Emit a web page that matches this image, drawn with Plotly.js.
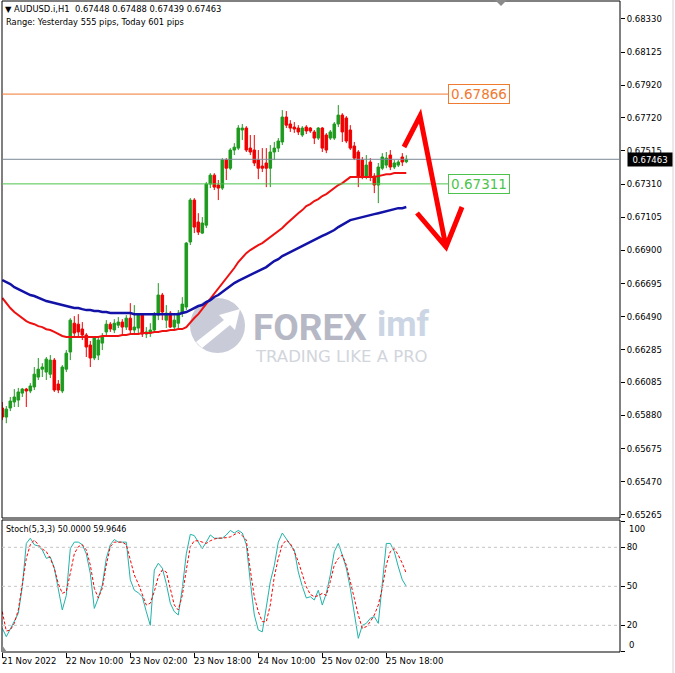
<!DOCTYPE html>
<html><head><meta charset="utf-8">
<script src="https://cdn.plot.ly/plotly-3.0.1.min.js"></script>
<style>html,body{margin:0;padding:0;background:#fff;overflow:hidden}#chart{width:675px;height:673px}</style>
</head><body><div id="chart"></div><script>
// ---- data ----
const tickBars = [0, 16, 32, 48, 64, 80, 96];
const tickLabels = ["21 Nov 2022", "22 Nov 10:00", "23 Nov 02:00", "23 Nov 18:00", "24 Nov 10:00", "25 Nov 02:00", "25 Nov 18:00"];

const open = [0.65926,0.65870,0.65926,0.65963,0.65975,0.66018,0.66043,0.66031,0.66056,0.66117,
0.66166,0.66148,0.66135,0.66222,0.66074,0.66031,0.66166,0.66272,0.66450,0.66444,
0.66414,0.66377,0.66315,0.66235,0.66253,0.66327,0.66396,0.66444,0.66408,0.66438,
0.66457,0.66426,0.66481,0.66408,0.66420,0.66500,0.66383,0.66389,0.66408,0.66500,
0.66624,0.66469,0.66512,0.66426,0.66450,0.66512,0.66550,0.66952,0.67211,0.67075,
0.67007,0.67056,0.67310,0.67365,0.67304,0.67285,0.67458,0.67408,0.67520,0.67532,
0.67644,0.67656,0.67532,0.67520,0.67458,0.67421,0.67440,0.67408,0.67508,0.67532,
0.67570,0.67724,0.67681,0.67662,0.67656,0.67613,0.67662,0.67656,0.67632,0.67594,
0.67656,0.67613,0.67594,0.67594,0.67681,0.67736,0.67718,0.67644,0.67545,0.67508,
0.67458,0.67359,0.67446,0.67359,0.67304,0.67408,0.67427,0.67489,0.67415,0.67427,
0.67477,0.67448];
const high = [0.65963,0.65938,0.65994,0.66043,0.66050,0.66050,0.66050,0.66080,0.66179,0.66235,
0.66203,0.66241,0.66253,0.66235,0.66099,0.66191,0.66284,0.66481,0.66494,0.66506,
0.66457,0.66389,0.66340,0.66371,0.66365,0.66389,0.66469,0.66457,0.66475,0.66488,
0.66475,0.66500,0.66574,0.66562,0.66512,0.66512,0.66426,0.66450,0.66519,0.66698,
0.66637,0.66562,0.66525,0.66500,0.66531,0.66611,0.66952,0.67223,0.67223,0.67130,
0.67106,0.67322,0.67377,0.67377,0.67335,0.67470,0.67470,0.67532,0.67563,0.67674,
0.67681,0.67668,0.67613,0.67613,0.67520,0.67532,0.67532,0.67551,0.67570,0.67594,
0.67767,0.67761,0.67705,0.67693,0.67674,0.67668,0.67674,0.67662,0.67644,0.67662,
0.67662,0.67625,0.67644,0.67693,0.67798,0.67748,0.67730,0.67674,0.67570,0.67520,
0.67477,0.67489,0.67470,0.67377,0.67440,0.67501,0.67508,0.67520,0.67458,0.67458,
0.67501,0.67488];
const low = [0.65851,0.65832,0.65907,0.65932,0.65932,0.65994,0.65932,0.66018,0.66037,0.66099,
0.66117,0.66099,0.66111,0.66025,0.66018,0.66018,0.66148,0.66222,0.66365,0.66365,
0.66346,0.66241,0.66179,0.66222,0.66222,0.66284,0.66365,0.66396,0.66389,0.66420,
0.66371,0.66408,0.66389,0.66377,0.66389,0.66365,0.66358,0.66365,0.66389,0.66469,
0.66469,0.66420,0.66420,0.66408,0.66420,0.66488,0.66531,0.66933,0.67007,0.66995,
0.67001,0.67038,0.67285,0.67273,0.67211,0.67273,0.67335,0.67396,0.67489,0.67520,
0.67582,0.67508,0.67489,0.67421,0.67340,0.67384,0.67291,0.67291,0.67458,0.67508,
0.67551,0.67656,0.67632,0.67626,0.67613,0.67601,0.67619,0.67626,0.67557,0.67582,
0.67508,0.67501,0.67582,0.67582,0.67662,0.67570,0.67563,0.67520,0.67458,0.67291,
0.67340,0.67340,0.67328,0.67254,0.67192,0.67396,0.67408,0.67396,0.67402,0.67415,
0.67421,0.67439];
const close = [0.65870,0.65919,0.65969,0.65994,0.66025,0.66043,0.66031,0.66062,0.66135,0.66166,
0.66179,0.66228,0.66222,0.66037,0.66037,0.66179,0.66265,0.66469,0.66389,0.66396,
0.66377,0.66303,0.66235,0.66358,0.66346,0.66365,0.66444,0.66414,0.66450,0.66457,
0.66426,0.66481,0.66408,0.66426,0.66500,0.66383,0.66396,0.66408,0.66500,0.66624,
0.66519,0.66512,0.66426,0.66469,0.66512,0.66568,0.66945,0.67211,0.67044,0.67013,
0.67069,0.67310,0.67365,0.67291,0.67285,0.67458,0.67408,0.67520,0.67538,0.67656,
0.67656,0.67520,0.67508,0.67440,0.67408,0.67408,0.67408,0.67508,0.67532,0.67576,
0.67724,0.67674,0.67656,0.67650,0.67632,0.67656,0.67638,0.67638,0.67594,0.67656,
0.67532,0.67520,0.67632,0.67681,0.67736,0.67632,0.67576,0.67532,0.67470,0.67359,
0.67359,0.67427,0.67353,0.67304,0.67415,0.67477,0.67470,0.67415,0.67440,0.67446,
0.67446,0.67463];

const maFast = [0.66606,0.66574,0.66544,0.66519,0.66500,0.66482,0.66463,0.66451,0.66444,0.66432,
0.66426,0.66413,0.66408,0.66396,0.66383,0.66371,0.66365,0.66365,0.66365,0.66365,
0.66365,0.66365,0.66365,0.66365,0.66365,0.66371,0.66371,0.66371,0.66371,0.66371,
0.66377,0.66377,0.66383,0.66383,0.66383,0.66389,0.66389,0.66389,0.66396,0.66396,
0.66402,0.66402,0.66408,0.66408,0.66414,0.66414,0.66426,0.66457,0.66482,0.66506,
0.66537,0.66568,0.66599,0.66630,0.66661,0.66692,0.66723,0.66760,0.66791,0.66828,
0.66859,0.66883,0.66902,0.66920,0.66933,0.66945,0.66964,0.66982,0.67001,0.67019,
0.67038,0.67063,0.67087,0.67106,0.67130,0.67149,0.67174,0.67186,0.67205,0.67217,
0.67236,0.67248,0.67267,0.67285,0.67304,0.67316,0.67335,0.67353,0.67353,0.67353,
0.67353,0.67353,0.67353,0.67353,0.67359,0.67365,0.67371,0.67371,0.67378,0.67378,
0.67378,0.67378];
const maSlow = [0.66717,0.66704,0.66692,0.66673,0.66661,0.66649,0.66636,0.66624,0.66618,0.66606,
0.66599,0.66587,0.66581,0.66574,0.66568,0.66562,0.66556,0.66550,0.66544,0.66544,
0.66537,0.66531,0.66531,0.66525,0.66525,0.66519,0.66519,0.66513,0.66513,0.66513,
0.66513,0.66513,0.66513,0.66506,0.66506,0.66506,0.66506,0.66506,0.66506,0.66506,
0.66506,0.66506,0.66506,0.66506,0.66506,0.66513,0.66519,0.66531,0.66544,0.66556,
0.66562,0.66581,0.66593,0.66612,0.66624,0.66643,0.66661,0.66680,0.66698,0.66711,
0.66723,0.66735,0.66747,0.66760,0.66772,0.66785,0.66797,0.66816,0.66834,0.66846,
0.66865,0.66877,0.66890,0.66902,0.66914,0.66927,0.66939,0.66952,0.66964,0.66976,
0.66989,0.67001,0.67013,0.67026,0.67044,0.67057,0.67075,0.67087,0.67093,0.67100,
0.67106,0.67112,0.67118,0.67124,0.67130,0.67137,0.67143,0.67149,0.67155,0.67161,
0.67161,0.67168];

const stochMain = [17.7,11.3,17.2,22.8,29.2,49.7,83,87,82,81,
78,71.5,72.6,64,47,31.8,43,79,84,84,
82,75,60,33,41,51,71.5,82,86,84,
84,84,55,47,45,42,30.5,20,62.5,67.7,
64,52,37,30.5,28,48.5,75,90,89,84,
79,84,89.5,87,87,87,89.5,93,91,93,
91,82,53.6,28,16.4,15,34,53.6,66,84,
91,86,82,78,61,50,41,42,39.5,47,
35.6,44.6,58.7,76.7,83,74,64,48.5,30.5,10,
20,21.5,25.4,26.7,21.5,53.6,83,83,76.7,65,
55,50.0];
const stochSignal = [30.5,15.6,16.4,21.5,31.8,51,71.5,82,85.6,82,
78.7,76.7,71.5,64,52,44.6,46,60,75,80.5,
82,78,66.4,48.5,41,48.5,66.4,80.5,84,84,
84,82,70,58.7,52,43,35.6,37,46,57.4,
62.6,61,48.5,35.6,31.8,43,62.6,80.5,85,85,
84,83,85,86.4,87,87,87.4,88,90,91.5,
89,85.6,62.6,42,30.5,22.8,22.8,35.6,57.4,71.5,
82,85.6,83,76.7,69,58.7,49.7,43.8,42,42.8,
44.6,43,53.6,66.4,71.5,74,66.4,53.6,40.8,28,
17.7,19,22.8,28,35.6,48.5,66.4,76.7,79,74,
67.7,59.9646];

const priceTicks = [0.68330,0.68125,0.67920,0.67720,0.67515,0.67310,0.67105,0.66900,0.66695,0.66490,0.66285,0.66085,0.65880,0.65675,0.65470,0.65265];
const stochTicks = [0, 20, 50, 80, 100];
const stochLevels = [20, 50, 80];
const levelHigh = 0.67866, levelLow = 0.67311, lastPrice = 0.67463;
const headerText = "\u25BC AUDUSD.i,H1\u00a0\u00a00.67448 0.67488 0.67439 0.67463";
const rangeText = "Range: Yesterday 555 pips, Today 601 pips";
const stochText = "Stoch(5,3,3) 50.0000 59.9646";

// ---- geometry helpers (pixel -> paper) ----
const W = 675, H = 673, ML = 2, MR = 55, MT = 1, MB = 21;
const PW = W - ML - MR, PH = H - MT - MB;
const fx = p => (p - ML) / PW;
const fy = p => (H - MB - p) / PH;
const bars = open.map((_, i) => i);
const FONT = 'DejaVu Sans';

const traces = [
  {type:'candlestick', x:bars, open:open, high:high, low:low, close:close, xaxis:'x', yaxis:'y',
   increasing:{line:{color:'#1e9a1e', width:1}, fillcolor:'#1e9a1e'},
   decreasing:{line:{color:'#f00000', width:1}, fillcolor:'#f00000'},
   whiskerwidth:0, hoverinfo:'skip'},
  {type:'scatter', mode:'lines', x:bars, y:maFast, xaxis:'x', yaxis:'y', line:{color:'#ee1111', width:2}, hoverinfo:'skip'},
  {type:'scatter', mode:'lines', x:bars, y:maSlow, xaxis:'x', yaxis:'y', line:{color:'#1212a6', width:2.5}, hoverinfo:'skip'},
  {type:'scatter', mode:'lines', x:bars, y:stochMain, xaxis:'x', yaxis:'y2', line:{color:'#20b2aa', width:1}, hoverinfo:'skip'},
  {type:'scatter', mode:'lines', x:bars, y:stochSignal, xaxis:'x', yaxis:'y2', line:{color:'#ff0000', width:1, dash:'3px,2px'}, hoverinfo:'skip'}
];

const shapes = [];
// watermark logo (below data)
shapes.push({type:'circle', xref:'paper', yref:'paper', x0:fx(190), x1:fx(245), y0:fy(353), y1:fy(298),
  fillcolor:'#c9ccd8', line:{width:0}, layer:'below'});
shapes.push({type:'path', xref:'paper', yref:'paper', layer:'below', fillcolor:'#ffffff', line:{width:0},
  path:`M${fx(196)},${fy(342)} L${fx(224)},${fy(320)} L${fx(219)},${fy(315)} L${fx(240)},${fy(309)} L${fx(235)},${fy(330)} L${fx(230)},${fy(325)} L${fx(202)},${fy(348)} Z`});
// panel frames
shapes.push({type:'rect', xref:'paper', yref:'paper', x0:0, x1:1, y0:fy(518), y1:1, line:{color:'#000', width:1}});
shapes.push({type:'rect', xref:'paper', yref:'paper', x0:0, x1:1, y0:0, y1:fy(520), line:{color:'#000', width:1}});
// horizontal level lines
shapes.push({type:'line', xref:'paper', yref:'y', x0:0, x1:fx(449), y0:levelHigh, y1:levelHigh, line:{color:'#f07a30', width:1}});
shapes.push({type:'line', xref:'paper', yref:'y', x0:0, x1:fx(449), y0:levelLow, y1:levelLow, line:{color:'#4cc44c', width:1}});
shapes.push({type:'line', xref:'paper', yref:'y', x0:0, x1:1, y0:lastPrice, y1:lastPrice, line:{color:'#7a8896', width:1}});
// stochastic levels
stochLevels.forEach(v => shapes.push({type:'line', xref:'paper', yref:'y2', x0:0, x1:1, y0:v, y1:v, line:{color:'#c4c4c4', width:1, dash:'3px,3px'}}));
// red arrow
shapes.push({type:'path', xref:'paper', yref:'paper', fillcolor:'rgba(0,0,0,0)', line:{color:'#ff0000', width:5},
  path:`M${fx(404)},${fy(147)} L${fx(420)},${fy(116)} L${fx(446)},${fy(247)} M${fx(417)},${fy(213)} L${fx(446)},${fy(247)} L${fx(462)},${fy(207)}`});
// small gray markers
shapes.push({type:'path', xref:'paper', yref:'paper', fillcolor:'#8a8a8a', line:{width:0},
  path:`M${fx(495)},${fy(0)} L${fx(507)},${fy(0)} L${fx(501)},${fy(6)} Z`});
shapes.push({type:'path', xref:'paper', yref:'paper', fillcolor:'#8a8a8a', line:{width:0},
  path:`M${fx(2)},${fy(652)} L${fx(2)},${fy(645)} L${fx(7)},${fy(652)} Z`});
// window right edge
shapes.push({type:'line', xref:'paper', yref:'paper', x0:fx(673), x1:fx(673), y0:fy(673), y1:fy(0), line:{color:'#d4d4d4', width:1}});

const annotations = [];
const txt = (text, x, y, size, extra) => Object.assign({text:text, xref:'paper', yref:'paper', x:fx(x), y:fy(y), xanchor:'left', yanchor:'middle', showarrow:false,
  font:{family:FONT, size:size, color:'#000'}}, extra || {});
annotations.push(txt(headerText, 3, 9, 8.4));
annotations.push(txt(rangeText, 4, 22, 8.3));
annotations.push(txt(stochText, 4, 529, 8));
tickBars.forEach((b, k) => annotations.push({text:tickLabels[k], xref:'x', yref:'paper', x:b, y:fy(661), xanchor:'left', yanchor:'middle',
  showarrow:false, xshift:-2, font:{family:FONT, size:8.5, color:'#000'}}));
annotations.push({text:'0', xref:'paper', yref:'y2', x:fx(627), y:4.8, xanchor:'left', yanchor:'middle', showarrow:false, font:{family:FONT, size:8.5, color:'#000'}});
annotations.push({text:'100', xref:'paper', yref:'y2', x:fx(627), y:94, xanchor:'left', yanchor:'middle', showarrow:false, font:{family:FONT, size:8.5, color:'#000'}});
annotations.push({text:lastPrice.toFixed(5), xref:'paper', yref:'y', x:fx(627), y:lastPrice, xanchor:'left', yanchor:'middle', showarrow:false,
  bgcolor:'#000', width:42, height:11, borderpad:1, font:{family:FONT, size:8.5, color:'#fff'}});
annotations.push({text:levelHigh.toFixed(5), xref:'paper', yref:'y', x:fx(448), y:levelHigh, xanchor:'left', yanchor:'middle', showarrow:false,
  bgcolor:'#fff', bordercolor:'#f07a30', borderwidth:1, borderpad:1, width:58, height:16, font:{family:FONT, size:13.5, color:'#f07a30'}});
annotations.push({text:levelLow.toFixed(5), xref:'paper', yref:'y', x:fx(448), y:levelLow, xanchor:'left', yanchor:'middle', showarrow:false,
  bgcolor:'#fff', bordercolor:'#4cc44c', borderwidth:1, borderpad:1, width:58, height:16, font:{family:FONT, size:13.5, color:'#4cc44c'}});
// watermark text
annotations.push(txt('FOREX', 252, 327, 38, {borderpad:0, font:{family:'Roboto', size:37, weight:'bold', color:'#b6b9c5'}}));
annotations.push(txt('imf', 376, 325, 36, {borderpad:0, font:{family:'Roboto', size:35, weight:'bold', color:'#cbd5e4'}}));
annotations.push(txt('TRADING LIKE A PRO', 254, 356, 16, {borderpad:0, font:{family:FONT, size:16.5, color:'#d2d5dc'}}));

const axisFont = {family:FONT, size:8.5, color:'#000'};
const layout = {
  width:W, height:H, margin:{l:ML, r:MR, t:MT, b:MB, pad:0},
  paper_bgcolor:'#ffffff', plot_bgcolor:'#ffffff', showlegend:false,
  boxgap:0.35, boxgroupgap:0,
  xaxis:{domain:[0,1], range:[-0.075, 154.425], anchor:'y2', showgrid:false, zeroline:false, showline:false,
    tickmode:'array', tickvals:tickBars, ticks:'outside', ticklen:5, tickwidth:1, tickcolor:'#000',
    showticklabels:false, rangeslider:{visible:false}, fixedrange:true},
  yaxis:{domain:[fy(518), 1], range:[0.652462, 0.684412], side:'right', anchor:'x',
    tickmode:'array', tickvals:priceTicks, ticktext:priceTicks.map(v => v.toFixed(5)),
    ticks:'outside', ticklen:4, tickwidth:1, tickcolor:'#000', tickfont:axisFont,
    showgrid:false, zeroline:false, showline:false, fixedrange:true},
  yaxis2:{domain:[0, fy(520)], range:[-0.5, 101], side:'right', anchor:'x',
    tickmode:'array', tickvals:stochTicks, ticktext:stochTicks.map(v => (v === 0 || v === 100) ? '' : String(v)),
    ticks:'outside', ticklen:4, tickwidth:1, tickcolor:'#000', tickfont:axisFont,
    showgrid:false, zeroline:false, showline:false, fixedrange:true},
  shapes:shapes, annotations:annotations
};

Plotly.newPlot('chart', traces, layout, {staticPlot:true, displayModeBar:false});
</script></body></html>
